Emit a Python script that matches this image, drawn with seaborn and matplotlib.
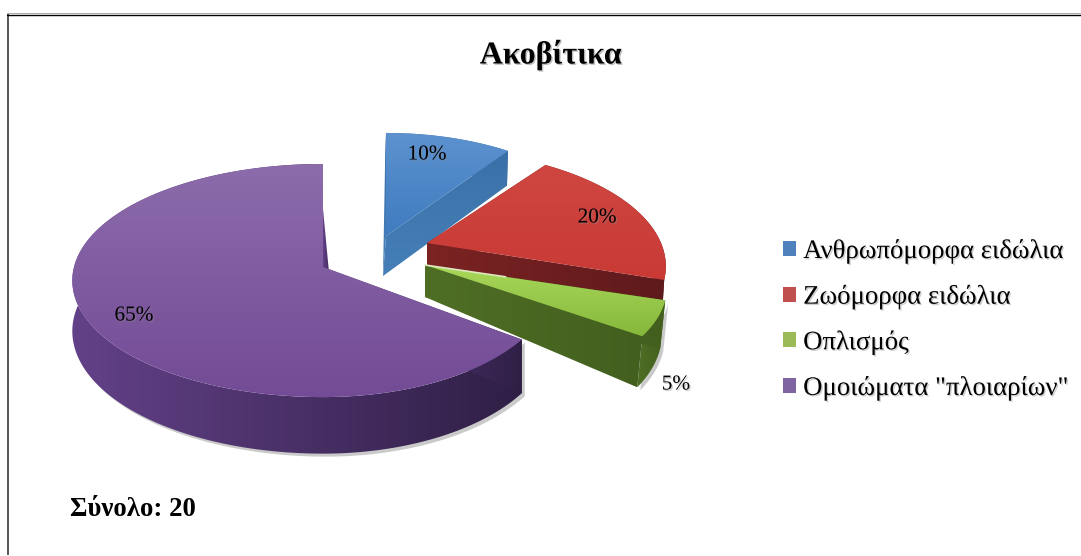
import numpy as np
import matplotlib
matplotlib.use("Agg")
import matplotlib.pyplot as plt
import matplotlib.patheffects as pe
from matplotlib.colors import LinearSegmentedColormap
from matplotlib.patches import Polygon, Patch
from matplotlib.transforms import Affine2D
import seaborn as sns

title = "Ακοβίτικα"
note = "Σύνολο: 20"
categories = ["Ανθρωπόμορφα ειδώλια", "Ζωόμορφα ειδώλια", "Οπλισμός", 'Ομοιώματα "πλοιαρίων"']
values = [10, 20, 5, 65]
legend_colors = ["#4f81bd", "#c0504d", "#9bbb59", "#8064a2"]

sns.set_theme(style="white")
plt.rcParams["font.family"] = ["Liberation Serif", "DejaVu Serif"]

W, H = 1081, 556
fig = plt.figure(figsize=(W / 100, H / 100), dpi=100, facecolor="white")
ax = fig.add_axes([0, 0, 1, 1])
ax.set_axis_off()
palette = sns.color_palette(legend_colors)

# per-slice geometry of the exploded, perspective pie
styles = [
    dict(apex=(386, 236), rl=227, rr=227, ht=115, k=0.116, d0=40, d1=38, dx0=-3, dx1=-1,
         top=("#5d92cf", "#3f7cbf"), side=("#3a70a8", "#4680b8"), sdir="v", lab=(427, 155), shadow=False),
    dict(apex=(427, 243), rl=234, rr=234, ht=112, k=0.20, d0=44, d1=44, dx0=0, dx1=-3,
         top=("#cf4640", "#c93a35"), side=("#7c2323", "#5f1a1c"), sdir="h", lab=(597, 218), shadow=False),
    dict(apex=(425, 265), rl=237, rr=237, ht=107, k=0.20, d0=32, d1=45, dx0=0, dx1=-5,
         top=("#a9d85a", "#86b83c"), side=("#4f6e25", "#435f1e"), sdir="h", lab=(676, 385), shadow=True),
    dict(apex=(323, 267), rl=249, rr=229, ht=115, k=0.116, d0=48, d1=50, dx0=10, dx1=0,
         top=("#8c6cab", "#734b96"), side=("#634188", "#2f1f45"), sdir="h", lab=(134, 316), shadow=True),
]


def project(style, theta, r):
    """theta: clockwise from twelve o'clock, r: 0..1 -> pixel position of the top face."""
    u, v = r * np.sin(theta), r * np.cos(theta)
    w = 1 + style["k"] * v
    R = np.where(u < 0, style["rl"], style["rr"])
    return style["apex"][0] + R * u / w, style["apex"][1] - style["ht"] * v / w, w


def bottom(style, theta, r):
    x, y, w = project(style, theta, r)
    d = (style["d0"] + (style["d1"] - style["d0"]) * r) / w
    return x + style["dx0"] * (1 - r) + style["dx1"] * r, y + d


def fill(pts, colors, direction, z):
    pts = np.asarray(pts)
    x0, x1, y0, y1 = pts[:, 0].min(), pts[:, 0].max(), pts[:, 1].min(), pts[:, 1].max()
    cmap = LinearSegmentedColormap.from_list("g", colors)
    g = np.linspace(0, 1, 128)
    arr = g[None, :] if direction == "h" else g[:, None]
    clip = Polygon(pts, closed=True, fc="none", ec="none", transform=ax.transData)
    ax.add_patch(clip)
    im = ax.imshow(arr, extent=(x0, x1, y1, y0), cmap=cmap, aspect="auto", zorder=z + 0.1,
                   vmin=0, vmax=1, interpolation="bilinear")
    im.set_clip_path(clip)


ax.set_xlim(0, W)
ax.set_ylim(H, 0)

fracs = np.array(values) / sum(values)
edges = np.concatenate([[0], np.cumsum(fracs)]) * 2 * np.pi
for i, (st, a, b) in enumerate(zip(styles, edges[:-1], edges[1:])):
    z = 2 + i
    th = np.linspace(a, b, 160)
    tx, ty, _ = project(st, th, 1.0)
    bx, by = bottom(st, th, 1.0)
    rim = np.r_[np.c_[tx, ty], np.c_[bx, by][::-1]]
    front = np.cos(th) < 0.1
    if st["shadow"] and front.any():
        sh = np.r_[np.c_[tx[front], ty[front]], np.c_[bx[front], by[front]][::-1]]
        ax.add_patch(Polygon(sh, closed=True, fc="#444444", ec="none", alpha=0.28, zorder=z,
                             transform=Affine2D().translate(3, 3) + ax.transData))
    fill(rim, st["side"], st["sdir"], z)
    for t in (a, b):
        px, py, _ = project(st, np.array([t, t]), np.array([0.0, 1.0]))
        qx, qy = bottom(st, np.array([t, t]), np.array([0.0, 1.0]))
        face = [(px[0], py[0]), (px[1], py[1]), (qx[1], qy[1]), (qx[0], qy[0])]
        fill(face, st["side"], st["sdir"], z + 0.2)
    top = np.r_[[list(st["apex"])], np.c_[tx, ty]]
    fill(top, st["top"], "v", z + 0.4)
    ax.text(*st["lab"], f"{values[i]}%", fontsize=15.3, ha="center", va="center", color="black",
            zorder=20, path_effects=[pe.withSimplePatchShadow(offset=(1, -1), shadow_rgbFace="#888888", alpha=0.4)])

# pale seam along the top edge of the green slice
gs = styles[2]
sx, sy, _ = project(gs, np.array([edges[2], edges[2]]), np.array([0.0, 0.35]))
ax.plot(sx, sy, color="#dfe8c0", lw=1.2, zorder=5)

# title and note
ax.text(551, 55, title, fontsize=23, fontweight="bold", ha="center", va="center", color="black",
        path_effects=[pe.withSimplePatchShadow(offset=(1, -1), shadow_rgbFace="#777777", alpha=0.45)])
ax.text(70, 509, note, fontsize=19.3, fontweight="bold", ha="left", va="center", color="black")

# legend
handles = [Patch(facecolor=c, edgecolor="none", label=n) for c, n in zip(palette, categories)]
leg = ax.legend(handles=handles, loc="center left", bbox_to_anchor=(783, 320),
                bbox_transform=ax.transData, frameon=False, fontsize=19.3,
                handlelength=0.49, handleheight=0.49, handletextpad=0.26,
                labelspacing=0.77, borderpad=0, borderaxespad=0)
for t in leg.get_texts():
    t.set_color("black")
    t.set_path_effects([pe.withSimplePatchShadow(offset=(1, -1), shadow_rgbFace="#888888", alpha=0.4)])

# chart frame (right and bottom sides lie outside the picture)
ax.plot([7, W], [13, 13], color="#aaaaaa", lw=0.7, zorder=1)
ax.plot([7, W], [14.5, 14.5], color="black", lw=1.0, zorder=1.1)
ax.plot([8, 8], [14, 555], color="#555555", lw=1.4, zorder=1, solid_capstyle="butt")

ax.set_xlim(0, W)
ax.set_ylim(H, 0)
fig.savefig("out.png", dpi=100)
